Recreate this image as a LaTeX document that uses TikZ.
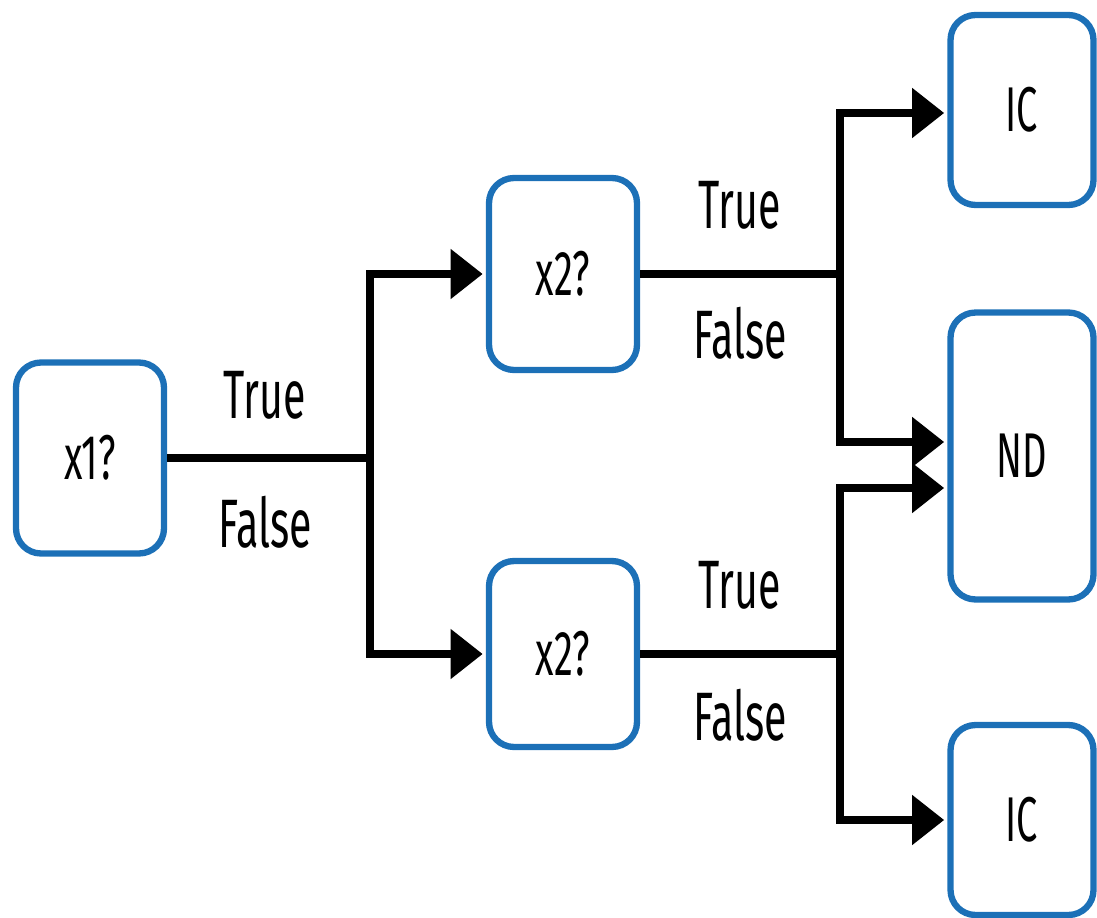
\documentclass[tikz,border=0pt]{standalone}
\usepackage{fontspec}
\setmainfont{Fira Sans}[FakeStretch=0.6]
\usetikzlibrary{arrows.meta,positioning,calc}
\definecolor{boxblue}{RGB}{28,112,183}

\begin{document}
\begin{tikzpicture}[x=0.02cm, y=-0.02cm,
    box/.style={draw=boxblue, line width=3.6pt, rounded corners=0.5cm, minimum width=2.96cm, font=\fontsize{36}{42}\selectfont},
    conn/.style={line width=4.5pt},
    arr/.style={conn, -{Triangle[length=0.64cm,width=0.96cm]}, shorten >=1.8pt},
    lbl/.style={font=\fontsize{39}{46}\selectfont}]
            \useasboundingbox (0,0) rectangle (1097,918);

            \node[box, minimum height=3.82cm] (x1) at (90,458) {x1?};
            \node[box, minimum height=3.84cm] (x2a) at (563,274) {x2?};
            \node[box, minimum height=3.72cm] (x2b) at (563,654) {x2?};
            \node[box, minimum width=2.86cm, minimum height=3.8cm] (ica) at (1022,110) {IC};
            \node[box, minimum width=2.86cm, minimum height=5.74cm] (nd) at (1022,456) {ND};
            \node[box, minimum width=2.86cm, minimum height=3.8cm] (icb) at (1022,820) {IC};

            \coordinate (s1) at (370,458);
            \coordinate (s2) at (840,274);
            \coordinate (s3) at (840,654);

            \draw[conn] (x1) -- (s1);
            \draw[arr] (s1) |- (x2a);
            \draw[arr] (s1) |- (x2b);
            \draw[conn] (x2a) -- (s2);
            \draw[arr] (s2) |- ($(ica.west)+(0,3)$);
            \draw[arr] (s2) |- ($(nd.west)+(0,-14)$);
            \draw[conn] (x2b) -- (s3);
            \draw[arr] (s3) |- ($(nd.west)+(0,32)$);
            \draw[arr] (s3) |- (icb);

            \node[lbl] (t1) at (265,395) {True};
            \node[lbl] (f1) at (265,522) {False};
            \node[lbl] (t2) at (740,205) {True};
            \node[lbl] (f2) at (740,333) {False};
            \node[lbl] (t3) at (740,585) {True};
            \node[lbl] (f3) at (740,715) {False};
\end{tikzpicture}
\end{document}
